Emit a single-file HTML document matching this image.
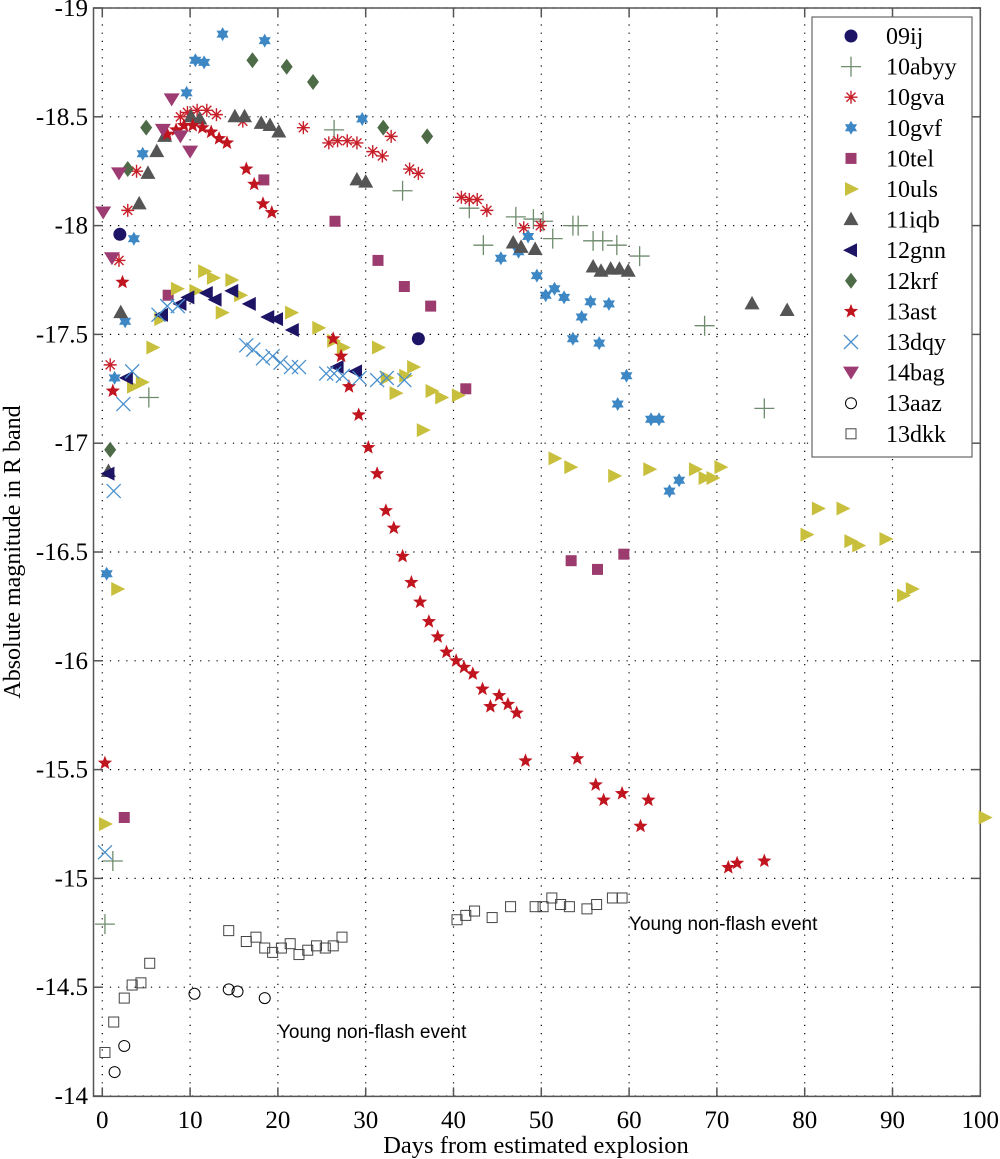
<!DOCTYPE html>
<html><head><meta charset="utf-8">
<style>
html,body{margin:0;padding:0;background:#fff;}
svg{display:block;}
text{font-family:"Liberation Serif",serif;fill:#000;}
.sans{font-family:"Liberation Sans",sans-serif;}
</style></head>
<body>
<svg id="chart" width="1000" height="1159" viewBox="0 0 1000 1159" xmlns="http://www.w3.org/2000/svg"></svg>
<script>
const xTicks=[0,10,20,30,40,50,60,70,80,90,100];
const yTicks=[-19,-18.5,-18,-17.5,-17,-16.5,-16,-15.5,-15,-14.5,-14];
const yTickLabels=["-19","-18.5","-18","-17.5","-17","-16.5","-16","-15.5","-15","-14.5","-14"];
const seriesNames=["09ij","10abyy","10gva","10gvf","10tel","10uls","11iqb","12gnn","12krf","13ast","13dqy","14bag","13aaz","13dkk"];
const d09ij=[[2.0,-17.96],[36.0,-17.48]];
const d10abyy=[[0.3,-14.79],[1.2,-15.08],[5.3,-17.21],[26.4,-18.44],[34.2,-18.16],[41.8,-18.08],[43.4,-17.91],[47.1,-18.04],[49.1,-18.03],[50.2,-18.02],[51.3,-17.94],[53.6,-18.0],[54.2,-18.0],[55.9,-17.93],[57.0,-17.93],[58.6,-17.91],[61.2,-17.86],[68.6,-17.54],[75.4,-17.16]];
const d10gva=[[0.9,-17.36],[1.9,-17.84],[2.9,-18.07],[3.9,-18.25],[8.9,-18.5],[9.7,-18.52],[10.8,-18.53],[11.9,-18.53],[13.0,-18.51],[16.0,-18.48],[22.9,-18.45],[25.8,-18.38],[26.8,-18.39],[27.9,-18.39],[29.0,-18.38],[30.8,-18.34],[31.9,-18.32],[32.9,-18.41],[35.0,-18.26],[36.0,-18.24],[40.9,-18.13],[41.8,-18.12],[42.7,-18.12],[43.8,-18.07],[48.0,-17.99],[49.9,-18.0]];
const d10gvf=[[0.5,-16.4],[1.4,-17.3],[2.6,-17.56],[3.6,-17.94],[4.6,-18.33],[9.6,-18.61],[10.6,-18.76],[11.6,-18.75],[13.7,-18.88],[18.5,-18.85],[29.6,-18.49],[45.4,-17.85],[47.4,-17.88],[48.5,-17.95],[49.5,-17.77],[50.5,-17.68],[51.5,-17.71],[52.6,-17.67],[53.6,-17.48],[54.6,-17.58],[55.6,-17.65],[56.6,-17.46],[57.7,-17.64],[58.7,-17.18],[59.7,-17.31],[62.5,-17.11],[63.4,-17.11],[64.6,-16.78],[65.7,-16.83]];
const d10tel=[[2.5,-15.28],[7.5,-17.68],[18.4,-18.21],[26.5,-18.02],[31.4,-17.84],[34.4,-17.72],[37.4,-17.63],[41.4,-17.25],[53.4,-16.46],[56.4,-16.42],[59.4,-16.49]];
const d10uls=[[0.3,-15.25],[1.7,-16.33],[3.5,-17.26],[4.5,-17.28],[5.7,-17.44],[6.6,-17.57],[8.5,-17.71],[10.6,-17.7],[11.6,-17.79],[12.6,-17.76],[13.6,-17.6],[14.7,-17.75],[15.7,-17.68],[21.5,-17.6],[24.6,-17.53],[26.3,-17.47],[27.4,-17.44],[31.4,-17.44],[32.4,-17.3],[33.4,-17.23],[34.5,-17.31],[35.4,-17.35],[36.5,-17.06],[37.5,-17.24],[38.6,-17.21],[40.5,-17.22],[51.5,-16.93],[53.3,-16.89],[58.3,-16.85],[62.3,-16.88],[67.5,-16.88],[68.6,-16.84],[69.5,-16.84],[70.4,-16.89],[80.2,-16.58],[81.5,-16.7],[84.3,-16.7],[85.2,-16.55],[86.1,-16.53],[89.2,-16.56],[91.2,-16.3],[92.2,-16.33],[100.5,-15.28]];
const d11iqb=[[0.7,-16.87],[2.1,-17.6],[4.2,-18.1],[5.2,-18.24],[6.2,-18.34],[7.1,-18.41],[10.1,-18.5],[11.1,-18.49],[15.1,-18.5],[16.2,-18.5],[18.1,-18.47],[19.1,-18.46],[20.1,-18.43],[29.0,-18.21],[30.0,-18.2],[46.8,-17.92],[47.7,-17.9],[49.3,-17.89],[55.9,-17.81],[56.8,-17.79],[57.9,-17.8],[58.9,-17.8],[59.9,-17.79],[74.0,-17.64],[78.0,-17.61]];
const d12gnn=[[0.7,-16.86],[2.8,-17.3],[6.8,-17.59],[8.9,-17.64],[9.8,-17.67],[11.9,-17.69],[12.9,-17.66],[14.8,-17.7],[16.8,-17.64],[18.9,-17.58],[19.9,-17.57],[21.7,-17.52],[26.8,-17.35],[28.9,-17.33]];
const d12krf=[[0.9,-16.97],[2.9,-18.26],[5.0,-18.45],[17.1,-18.76],[21.0,-18.73],[24.0,-18.66],[32.0,-18.45],[37.0,-18.41]];
const d13ast=[[0.3,-15.53],[1.2,-17.24],[2.3,-17.74],[7.4,-18.42],[8.4,-18.44],[9.3,-18.46],[10.3,-18.46],[11.4,-18.45],[12.4,-18.43],[13.3,-18.4],[14.2,-18.38],[16.4,-18.26],[17.3,-18.19],[18.3,-18.1],[19.3,-18.06],[26.3,-17.48],[27.2,-17.4],[28.1,-17.26],[29.2,-17.13],[30.3,-16.98],[31.3,-16.86],[32.3,-16.69],[33.2,-16.61],[34.2,-16.48],[35.2,-16.36],[36.2,-16.27],[37.2,-16.18],[38.2,-16.11],[39.2,-16.04],[40.3,-16.0],[41.2,-15.97],[42.2,-15.94],[43.3,-15.87],[44.2,-15.79],[45.2,-15.84],[46.2,-15.8],[47.2,-15.76],[48.2,-15.54],[54.1,-15.55],[56.2,-15.43],[57.1,-15.36],[59.2,-15.39],[62.2,-15.36],[61.3,-15.24],[71.3,-15.05],[72.3,-15.07],[75.4,-15.08]];
const d13dqy=[[0.3,-15.12],[1.3,-16.78],[2.4,-17.18],[3.4,-17.33],[6.4,-17.59],[7.4,-17.63],[8.6,-17.63],[16.4,-17.45],[17.2,-17.43],[18.3,-17.39],[19.4,-17.4],[20.3,-17.37],[21.5,-17.35],[22.4,-17.35],[25.5,-17.32],[26.4,-17.32],[27.4,-17.31],[29.3,-17.3],[31.3,-17.29],[32.4,-17.3],[34.4,-17.29]];
const d14bag=[[0.1,-18.06],[1.1,-17.85],[1.9,-18.24],[6.9,-18.44],[7.9,-18.58],[8.9,-18.41],[10.0,-18.34]];
const d13aaz=[[1.4,-14.11],[2.5,-14.23],[10.5,-14.47],[14.4,-14.49],[15.4,-14.48],[18.5,-14.45]];
const d13dkk=[[0.3,-14.2],[1.3,-14.34],[2.5,-14.45],[3.4,-14.51],[4.4,-14.52],[5.4,-14.61],[14.4,-14.76],[16.4,-14.71],[17.5,-14.73],[18.5,-14.68],[19.4,-14.66],[20.4,-14.68],[21.4,-14.7],[22.4,-14.65],[23.4,-14.67],[24.4,-14.69],[25.4,-14.68],[26.3,-14.69],[27.3,-14.73],[40.4,-14.81],[41.4,-14.83],[42.4,-14.85],[44.4,-14.82],[46.5,-14.87],[49.3,-14.87],[50.2,-14.87],[51.2,-14.91],[52.2,-14.88],[53.2,-14.87],[55.2,-14.86],[56.3,-14.88],[58.1,-14.91],[59.2,-14.91]];

const NS="http://www.w3.org/2000/svg";
const svg=document.getElementById('chart');
const L=93.5,R=980.3,T=8,B=1096.4;
const xScale=d=>102.3+d*8.78;
const yScale=m=>T+(m+19)*217.6;
function mk(tag,attrs,parent){const e=document.createElementNS(NS,tag);for(const k in attrs)e.setAttribute(k,attrs[k]);(parent||svg).appendChild(e);return e;}

const grid=mk('g',{});


xTicks.forEach(t=>{const x=xScale(t);
  const l=mk('line',{x1:x,x2:x,y1:T,y2:B,stroke:'#000','stroke-width':1.2,'stroke-dasharray':'1.2 7'},grid);
  
  mk('line',{x1:x,x2:x,y1:B,y2:B-9,stroke:'#555','stroke-width':1.5},grid);
  mk('line',{x1:x,x2:x,y1:T,y2:T+9,stroke:'#555','stroke-width':1.5},grid);
  const tx=mk('text',{x:x,y:1128,'font-size':25,'text-anchor':'middle'});tx.textContent=t;
  
});
yTicks.forEach((t,i)=>{const y=yScale(t);
  const l=mk('line',{x1:L,x2:R,y1:y,y2:y,stroke:'#000','stroke-width':1.2,'stroke-dasharray':'1.2 7'},grid);
  
  mk('line',{x1:L,x2:L+9,y1:y,y2:y,stroke:'#555','stroke-width':1.5},grid);
  mk('line',{x1:R,x2:R-9,y1:y,y2:y,stroke:'#555','stroke-width':1.5},grid);
  const tx=mk('text',{x:88,y:y+8,'font-size':25,'text-anchor':'end'});tx.textContent=yTickLabels[i];
  
});
const frame=mk('rect',{x:L,y:T,width:R-L,height:B-T,fill:'none',stroke:'#555','stroke-width':1.5});


function star(cx,cy,n,ro,ri){let p=[];for(let i=0;i<2*n;i++){const a=-Math.PI/2+i*Math.PI/n;const r=i%2?ri:ro;p.push((cx+r*Math.cos(a)).toFixed(1)+','+(cy+r*Math.sin(a)).toFixed(1));}return p.join(' ');}
function marker(kind,x,y,g){
  switch(kind){
   case 'circle':return mk('circle',{cx:x,cy:y,r:6.5,fill:'#1d1465'},g);
   case 'plus':return mk('path',{d:`M${x-10},${y}H${x+10}M${x},${y-10}V${y+10}`,stroke:'#6f8c6f','stroke-width':1.3,fill:'none'},g);
   case 'aster':{const s=6.5,c=s*0.7;return mk('path',{d:`M${x-s},${y}H${x+s}M${x},${y-s}V${y+s}M${x-c},${y-c}L${x+c},${y+c}M${x-c},${y+c}L${x+c},${y-c}`,stroke:'#c8202a','stroke-width':1.4,fill:'none'},g);}
   case 'hex':return mk('polygon',{points:star(x,y,6,7,4),fill:'#3d87c4'},g);
   case 'square':return mk('rect',{x:x-5.5,y:y-5.5,width:11,height:11,fill:'#9c3c6e'},g);
   case 'tright':return mk('polygon',{points:`${x-6},${y-7} ${x+8},${y} ${x-6},${y+7}`,fill:'#c8bf3c'},g);
   case 'tup':return mk('polygon',{points:`${x},${y-8} ${x+7.5},${y+5.5} ${x-7.5},${y+5.5}`,fill:'#555'},g);
   case 'tleft':return mk('polygon',{points:`${x+6},${y-7} ${x-8},${y} ${x+6},${y+7}`,fill:'#1d1465'},g);
   case 'diamond':return mk('polygon',{points:`${x},${y-8} ${x+6},${y} ${x},${y+8} ${x-6},${y}`,fill:'#4e6b48'},g);
   case 'star5':return mk('polygon',{points:star(x,y,5,7.5,3.2),fill:'#c0141f'},g);
   case 'cross':return mk('path',{d:`M${x-7},${y-7}L${x+7},${y+7}M${x-7},${y+7}L${x+7},${y-7}`,stroke:'#4a90cc','stroke-width':1.3,fill:'none'},g);
   case 'tdown':return mk('polygon',{points:`${x-8},${y-6} ${x+8},${y-6} ${x},${y+7}`,fill:'#9c3c72'},g);
   case 'ocircle':return mk('circle',{cx:x,cy:y,r:5.5,fill:'none',stroke:'#000','stroke-width':1},g);
   case 'osquare':return mk('rect',{x:x-5,y:y-5,width:10,height:10,fill:'none',stroke:'#444','stroke-width':1},g);
  }
}
const kinds=['circle','plus','aster','hex','square','tright','tup','tleft','diamond','star5','cross','tdown','ocircle','osquare'];
const datasets=[d09ij,d10abyy,d10gva,d10gvf,d10tel,d10uls,d11iqb,d12gnn,d12krf,d13ast,d13dqy,d14bag,d13aaz,d13dkk];
datasets.forEach((ds,i)=>{
  const g=mk('g',{});
  
  
  ds.forEach(p=>{const m=marker(kinds[i],xScale(p[0]),yScale(p[1]),g);
    
    });
});

const lg=mk('g',{});


mk('rect',{x:812,y:17,width:160,height:440,fill:'#fff',stroke:'#666','stroke-width':1.2},lg);
seriesNames.forEach((n,i)=>{const y=36+i*30.6;
  const e=mk('g',{},lg);
  
  
  marker(kinds[i],851,y,e);
  const t=mk('text',{x:886,y:y+8,'font-size':24},e);t.textContent=n;
});

const xt=mk('text',{x:536,y:1153,'font-size':24.5,'text-anchor':'middle'});xt.textContent='Days from estimated explosion';

const yt=mk('text',{x:0,y:0,'font-size':24,'text-anchor':'middle',transform:'translate(20,552) rotate(-90)'});yt.textContent='Absolute magnitude in R band';


const a1=mk('text',{x:629,y:930,'font-size':19,class:'sans'});a1.textContent='Young non-flash event';

const a2=mk('text',{x:278,y:1038,'font-size':19,class:'sans'});a2.textContent='Young non-flash event';

</script>
</body></html>
